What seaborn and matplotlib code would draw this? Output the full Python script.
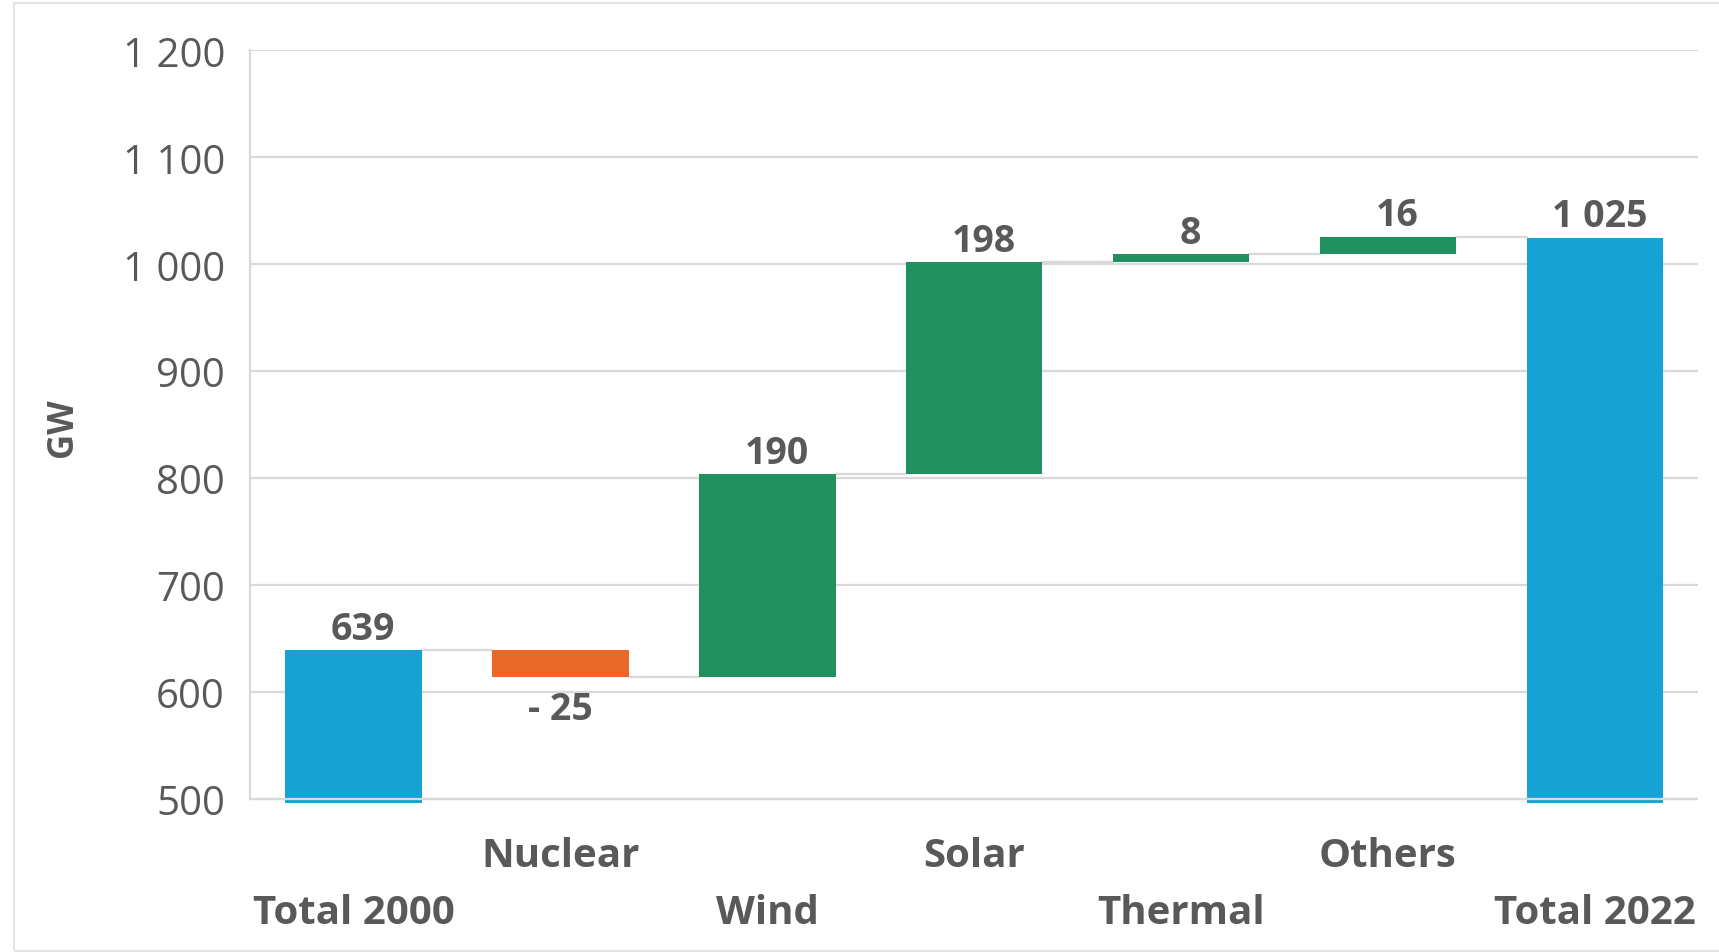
import numpy as np
import pandas as pd
import seaborn as sns
import matplotlib.pyplot as plt
from matplotlib.patches import Rectangle

# Dados do gráfico (GW)
categorias = ["Total 2000", "Nuclear", "Wind", "Solar", "Thermal", "Others", "Total 2022"]
variacoes = [639, -25, 190, 198, 8, 16, 1025]
tipos = ["total", "delta", "delta", "delta", "delta", "delta", "total"]
rotulos = ["639", "- 25", "190", "198", "8", "16", "1 025"]

cores = {"total": "#16A3D3", "pos": "#21905E", "neg": "#EA6827"}
cinza_texto = "#595959"
cinza_linha = "#D9D9D9"

# Cálculo das bases da cascata
bases, alturas, niveis, cor_barras = [], [], [], []
nivel = 0
for v, t in zip(variacoes, tipos):
    if t == "total":
        bases.append(0)
        alturas.append(v)
        nivel = v
        cor_barras.append(cores["total"])
    else:
        bases.append(nivel if v >= 0 else nivel + v)
        alturas.append(abs(v))
        nivel = nivel + v
        cor_barras.append(cores["pos"] if v >= 0 else cores["neg"])
    niveis.append(nivel)

df = pd.DataFrame({"Categoria": categorias, "Altura": alturas, "Base": bases})

sns.set_theme(style="white")
plt.rcParams["font.family"] = ["Open Sans", "DejaVu Sans"]

fig = plt.figure(figsize=(17.19, 9.53), dpi=100)
ax = fig.add_axes([0.1454, 0.1567, 0.988 - 0.1454, 0.946 - 0.1567])

sns.barplot(data=df, x="Categoria", y="Altura", order=categorias, hue="Categoria",
            palette=cor_barras, saturation=1, width=0.66, errorbar=None, legend=False,
            ax=ax, zorder=2)
# Barras flutuantes: desloca cada barra para a sua base
for p, b, c in zip(ax.patches, bases, cor_barras):
    p.set_y(b)
    p.set_facecolor(c)
    p.set_edgecolor(c)
    p.set_linewidth(0)

ax.set_ylim(496.5, 1200)
ax.set_xlim(-0.5, len(categorias) - 0.5)
ax.set_yticks(np.arange(500, 1201, 100))
ax.set_yticklabels([f"{t:,}".replace(",", " ") for t in range(500, 1201, 100)])

# Grade e eixos
ax.set_axisbelow(True)
ax.yaxis.grid(True, color=cinza_linha, linewidth=1.6)
ax.axhline(500, color=cinza_linha, linewidth=1.6, zorder=4)
for s in ["top", "right", "bottom"]:
    ax.spines[s].set_visible(False)
ax.spines["left"].set_color(cinza_linha)
ax.spines["left"].set_linewidth(1.6)
ax.spines["left"].set_bounds(500, 1200)

# Linhas de ligação entre barras
for i in range(len(categorias) - 1):
    ax.plot([i + 0.33, i + 1 - 0.33], [niveis[i], niveis[i]], color=cinza_linha, lw=1.6, zorder=1)

# Rótulos de valor
desloc_x = [7, 0, 7, 7, 7, 7, 3.5]
for i, (v, r) in enumerate(zip(variacoes, rotulos)):
    if v >= 0:
        ax.annotate(r, (i, bases[i] + alturas[i]), xytext=(desloc_x[i], 8), textcoords="offset points",
                    ha="center", va="baseline", fontsize=27, fontweight="bold", color=cinza_texto)
    else:
        ax.annotate(r, (i, bases[i]), xytext=(desloc_x[i], -9), textcoords="offset points",
                    ha="center", va="top", fontsize=27, fontweight="bold", color=cinza_texto)

ax.tick_params(axis="both", length=0)
ax.tick_params(axis="y", pad=18, labelsize=29, labelcolor=cinza_texto)
ax.tick_params(axis="x", labelsize=29, labelcolor=cinza_texto)
for lbl in ax.get_xticklabels():
    lbl.set_fontweight("bold")
for i, tick in enumerate(ax.xaxis.get_major_ticks()):
    tick.set_pad(65 if i % 2 == 0 else 24)

ax.set_xlabel("")
ax.set_ylabel("GW", fontsize=25, fontweight="bold", color=cinza_texto)
ax.yaxis.set_label_coords(-0.1165, 0.5)

fig.patches.append(Rectangle((14 / 1719, 1 / 953), 1.0, (953 - 5) / 953, transform=fig.transFigure,
                             fill=False, edgecolor="#E3E3E3", lw=1.5))

plt.savefig("out.png", dpi=100)
